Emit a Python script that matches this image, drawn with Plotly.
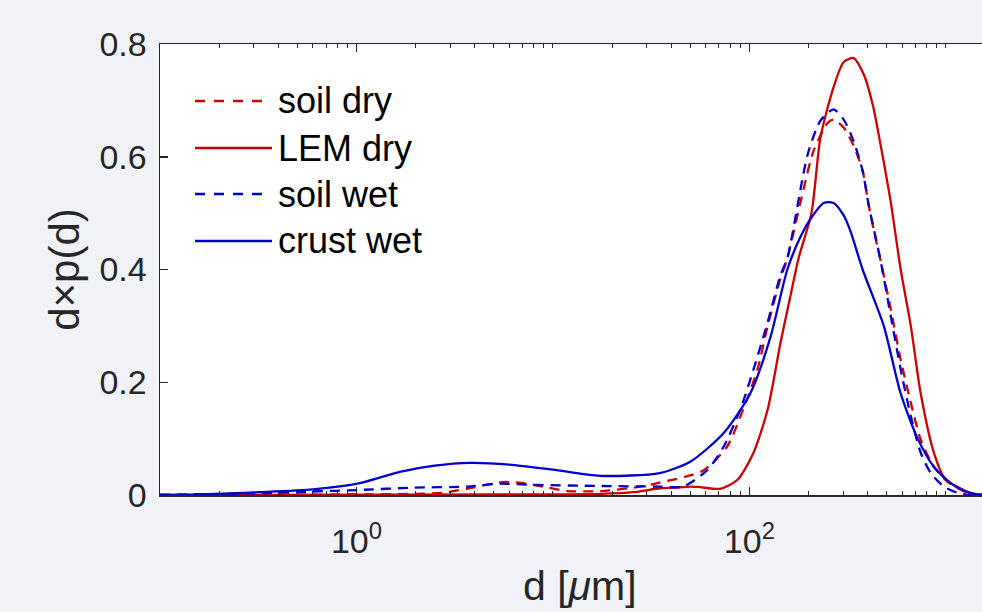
import numpy as np
import plotly.graph_objects as go

# ---------------- data ----------------
soil_dry_d = [0.1, 1.0, 2.0, 2.75, 3.64, 5.56, 7.03, 8.89, 11.8, 17.4, 25.6, 34, 58, 77, 93,
              110, 124, 144, 156, 185, 212, 250, 268, 302, 339, 377, 405, 439, 466, 524,
              589, 663, 745, 869, 1023, 1294, 1600]
soil_dry_v = [0.0, 0.001, 0.002, 0.004, 0.011, 0.023, 0.021, 0.015, 0.007, 0.007, 0.013, 0.021,
              0.043, 0.086, 0.152, 0.223, 0.300, 0.384, 0.420, 0.530, 0.610, 0.660, 0.666,
              0.652, 0.620, 0.575, 0.514, 0.455, 0.415, 0.330, 0.240, 0.164, 0.098, 0.050,
              0.023, 0.004, 0.0]

lem_dry_d = [0.1, 10, 17.4, 25.6, 35.2, 41, 50, 56, 71, 87, 105, 124, 144, 162, 178, 207,
             230, 268, 302, 339, 382, 424, 466, 524, 589, 663, 745, 869, 977, 1194, 1509]
lem_dry_v = [0.0, 0.001, 0.002, 0.005, 0.012, 0.013, 0.015, 0.014, 0.011, 0.027, 0.075, 0.152,
             0.270, 0.354, 0.420, 0.500, 0.634, 0.723, 0.768, 0.775, 0.746, 0.693, 0.620,
             0.520, 0.400, 0.300, 0.180, 0.075, 0.032, 0.009, 0.0]

soil_wet_d = [0.1, 0.32, 0.575, 1.04, 1.93, 3.64, 5.37, 7.91, 17.4, 35, 46, 61, 74, 90, 105,
              124, 144, 156, 198, 230, 268, 302, 339, 377, 405, 450, 466, 524, 589, 663,
              745, 838, 977, 1194, 1500]
soil_wet_v = [0.0, 0.003, 0.006, 0.009, 0.013, 0.015, 0.020, 0.018, 0.016, 0.015, 0.015, 0.044,
              0.086, 0.152, 0.223, 0.307, 0.390, 0.420, 0.604, 0.664, 0.684, 0.666, 0.628,
              0.575, 0.514, 0.440, 0.415, 0.318, 0.223, 0.140, 0.075, 0.039, 0.015, 0.002, 0.0]

crust_wet_d = [0.1, 0.16, 0.32, 0.6, 1.04, 1.66, 2.5, 3.77, 6, 10, 17.4, 35, 50, 74, 101, 128,
               156, 182, 205, 239, 268, 302, 327, 377, 483, 589, 719, 869, 1061, 1390, 2000]
crust_wet_v = [0.0, 0.001, 0.005, 0.010, 0.021, 0.041, 0.052, 0.057, 0.054, 0.045, 0.034,
               0.039, 0.059, 0.110, 0.180, 0.280, 0.400, 0.458, 0.490, 0.518, 0.518, 0.496,
               0.468, 0.400, 0.300, 0.180, 0.100, 0.050, 0.021, 0.002, 0.0]

series_names = ["soil dry", "LEM dry", "soil wet", "crust wet"]
x_major_vals = [1, 100]
x_major_text = ["10<sup>0</sup>", "10<sup>2</sup>"]
y_tick_vals = [0, 0.2, 0.4, 0.6, 0.8]
y_tick_text = ["0", "0.2", "0.4", "0.6", "0.8"]

RED = "rgb(204,0,0)"
BLUE = "rgb(0,0,204)"
AX = "#262626"
BG = "#f1f2f8"
FONT = "Liberation Sans, Arial, Helvetica, sans-serif"
DASH = "10px,7px"
LEG_DASH = "10px,9px"

series = [
    (soil_dry_d, soil_dry_v, RED, DASH),
    (lem_dry_d, lem_dry_v, RED, "solid"),
    (soil_wet_d, soil_wet_v, BLUE, DASH),
    (crust_wet_d, crust_wet_v, BLUE, "solid"),
]

fig = go.Figure()
for name, (xd, yv, col, dash) in zip(series_names, series):
    fig.add_trace(go.Scatter(x=xd, y=yv, mode="lines", name=name, showlegend=False,
                             hoverinfo="skip",
                             line=dict(color=col, width=2.3, dash=dash, shape="spline", smoothing=0.7)))

minor_vals = [k * 10.0 ** e for e in range(-1, 4) for k in range(1, 10)
              if (k * 10.0 ** e) not in x_major_vals]

W, H = 982, 612
L, R, T, B = 160, 0, 44, 117
pw, ph = W - L - R, H - T - B

def px(xp):
    return (xp - L) / pw

def py(yp):
    return (H - B - yp) / ph

# manual legend (long line samples like the original)
legend_y = [101, 148, 194, 241]
for name, (xd, yv, col, dash), ly in zip(series_names, series, legend_y):
    solid = dash == "solid"
    x1 = 272 if solid else 265
    fig.add_shape(type="line", xref="paper", yref="paper", x0=px(195), x1=px(x1),
                  y0=py(ly), y1=py(ly),
                  line=dict(color=col, width=2.3, dash="solid" if solid else LEG_DASH))
    fig.add_annotation(xref="paper", yref="paper", x=px(276), y=py(ly), text=name,
                       showarrow=False, xanchor="left", yanchor="middle",
                       font=dict(family=FONT, size=36, color="black"))

fig.add_annotation(xref="paper", yref="paper", x=px(580), y=py(586), text="d [<i>μ</i>m]",
                   showarrow=False, xanchor="center", yanchor="middle",
                   font=dict(family=FONT, size=41, color=AX))

fig.update_layout(
    width=W, height=H,
    margin=dict(l=L, r=R, t=T, b=B),
    paper_bgcolor=BG,
    plot_bgcolor="white",
    font=dict(family=FONT, size=34, color=AX),
    showlegend=False,
    hovermode=False,
)
fig.update_xaxes(
    type="log", range=[-1, 3.184],
    tickmode="array", tickvals=x_major_vals, ticktext=x_major_text,
    ticks="inside", ticklen=8, tickwidth=1.5, tickcolor=AX,
    minor=dict(tickmode="array", tickvals=minor_vals, ticks="inside", ticklen=4,
               tickwidth=1, tickcolor=AX),
    showline=True, linecolor=AX, linewidth=1.5, mirror="ticks",
    showgrid=False, zeroline=False, ticklabelstandoff=16,
    tickfont=dict(family=FONT, size=34, color=AX),
)
fig.update_yaxes(
    range=[0, 0.8],
    tickmode="array", tickvals=y_tick_vals, ticktext=y_tick_text,
    ticks="inside", ticklen=8, tickwidth=1.5, tickcolor=AX,
    showline=True, linecolor=AX, linewidth=1.5, mirror=False,
    showgrid=False, zeroline=False, ticklabelstandoff=5,
    tickfont=dict(family=FONT, size=34, color=AX),
    title=dict(text="d×p(d)", font=dict(family=FONT, size=42, color=AX), standoff=6),
)

fig.write_html(
    "out.html",
    config={"displayModeBar": False, "staticPlot": True},
    post_script="document.body.style.margin='0px';document.body.style.overflow='hidden';"
                "document.body.style.background='" + BG + "';",
)
